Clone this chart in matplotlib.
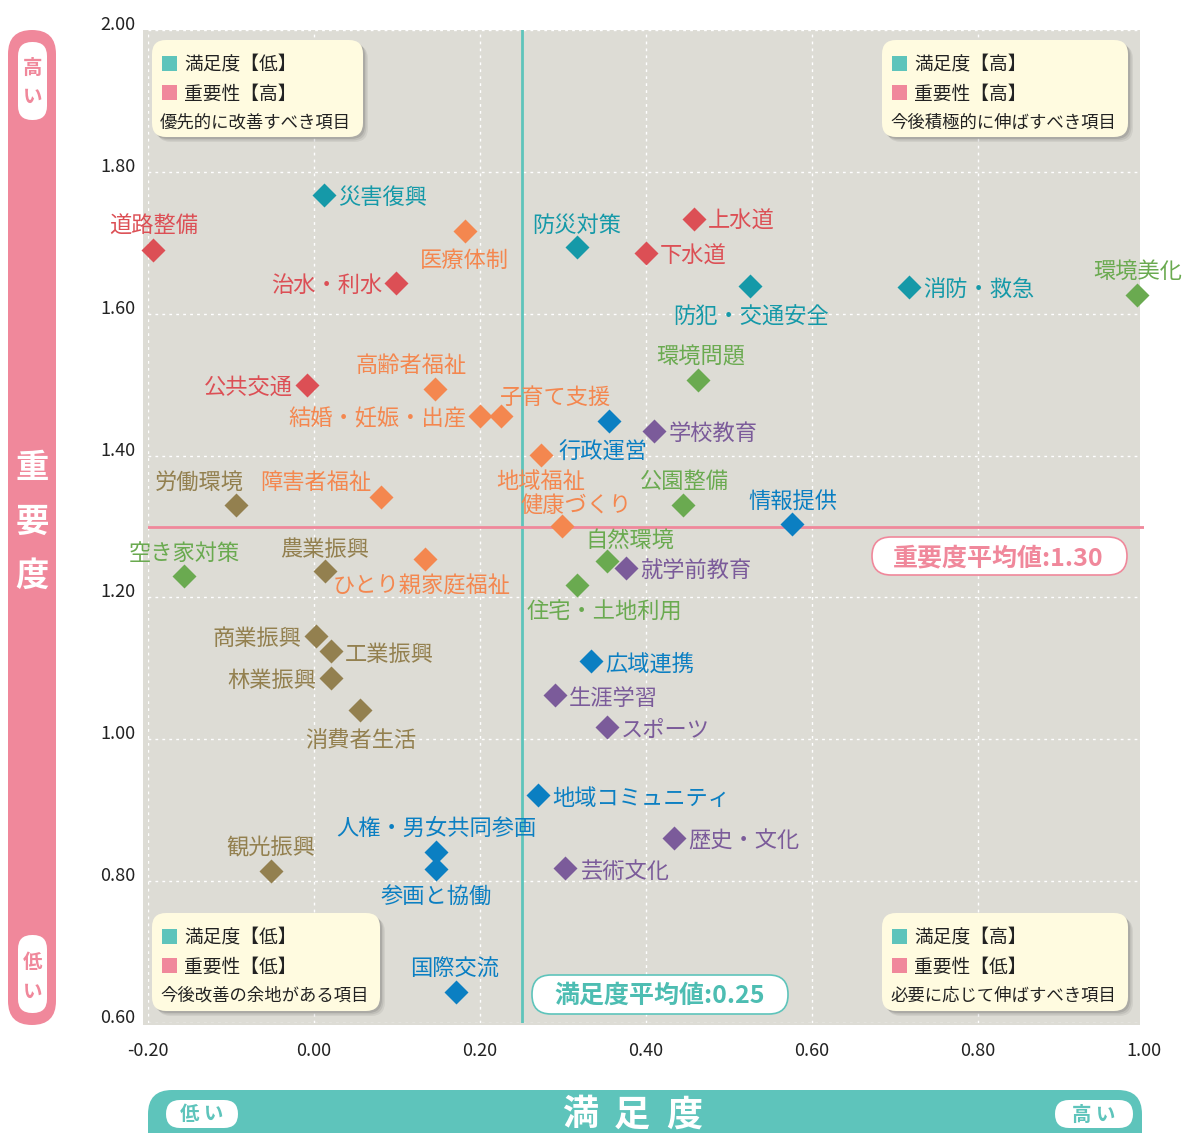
import matplotlib
matplotlib.use("Agg")
import matplotlib.pyplot as plt
from matplotlib.patches import FancyBboxPatch, Rectangle
from matplotlib.transforms import Affine2D, ScaledTranslation

plt.rcParams['font.family'] = ['Noto Sans CJK JP', 'DejaVu Sans']

# 各項目: 名前, 満足度, 重要度, グループ
names = ['災害復興', '道路整備', '医療体制', '防災対策', '上水道', '下水道', '治水・利水',
         '防犯・交通安全', '消防・救急', '環境美化', '環境問題', '公共交通', '高齢者福祉',
         '結婚・妊娠・出産', '子育て支援', '行政運営', '学校教育', '地域福祉', '健康づくり',
         '労働環境', '障害者福祉', '公園整備', '情報提供', '自然環境', '就学前教育',
         '空き家対策', '農業振興', 'ひとり親家庭福祉', '住宅・土地利用', '商業振興',
         '工業振興', '林業振興', '広域連携', '生涯学習', '消費者生活', 'スポーツ',
         '地域コミュニティ', '人権・男女共同参画', '参画と協働', '歴史・文化', '観光振興',
         '芸術文化', '国際交流']
satisfaction = [0.012, -0.194, 0.182, 0.317, 0.458, 0.400, 0.099,
                0.525, 0.717, 0.992, 0.463, -0.008, 0.146,
                0.200, 0.225, 0.355, 0.410, 0.273, 0.299,
                -0.094, 0.081, 0.445, 0.576, 0.353, 0.376,
                -0.157, 0.013, 0.134, 0.317, 0.002,
                0.020, 0.020, 0.334, 0.290, 0.055, 0.353,
                0.270, 0.147, 0.147, 0.434, -0.052,
                0.302, 0.171]
importance = [1.768, 1.690, 1.716, 1.694, 1.734, 1.685, 1.644,
              1.639, 1.638, 1.627, 1.507, 1.500, 1.494,
              1.456, 1.456, 1.449, 1.435, 1.401, 1.301,
              1.331, 1.342, 1.331, 1.303, 1.251, 1.241,
              1.230, 1.237, 1.254, 1.217, 1.146,
              1.124, 1.087, 1.110, 1.062, 1.041, 1.017,
              0.921, 0.841, 0.817, 0.861, 0.815,
              0.818, 0.644]
groups = ['防災', '基盤', '福祉', '防災', '基盤', '基盤', '基盤',
          '防災', '防災', '環境', '環境', '基盤', '福祉',
          '福祉', '福祉', '行政', '教育', '福祉', '福祉',
          '産業', '福祉', '環境', '行政', '環境', '教育',
          '環境', '産業', '福祉', '環境', '産業',
          '産業', '産業', '行政', '教育', '産業', '教育',
          '行政', '行政', '行政', '教育', '産業',
          '教育', '行政']

mean_sat = 0.25
mean_imp = 1.30
xticks = [-0.2, 0.0, 0.2, 0.4, 0.6, 0.8, 1.0]
yticks = [0.6, 0.8, 1.0, 1.2, 1.4, 1.6, 1.8, 2.0]

colors = {'防災': '#1599a8', '基盤': '#dc4f55', '福祉': '#f4874f', '環境': '#6aaa50',
          '行政': '#0b7fc2', '教育': '#7b5b9a', '産業': '#93804f'}

# ラベル位置 (dx, dy [px], ha)
R = (14, 0, 'left')
L = (-14, 0, 'right')
label_pos = {
    '災害復興': R, '道路整備': (1, 27, 'center'), '医療体制': (-1, -26, 'center'),
    '防災対策': (0, 25, 'center'), '上水道': R, '下水道': R, '治水・利水': L,
    '防犯・交通安全': (1, -28, 'center'), '消防・救急': R, '環境美化': (0, 26, 'center'),
    '環境問題': (2, 26, 'center'), '公共交通': L, '高齢者福祉': (-24, 26, 'center'),
    '結婚・妊娠・出産': L, '子育て支援': (55, 21, 'center'), '行政運営': (-6, -28, 'center'),
    '学校教育': R, '地域福祉': (0, -24, 'center'), '健康づくり': (14, 23, 'center'),
    '労働環境': (-37, 25, 'center'), '障害者福祉': (-65, 17, 'center'),
    '公園整備': (1, 26, 'center'), '情報提供': (1, 25, 'center'),
    '自然環境': (23, 24, 'center'), '就学前教育': R, '空き家対策': (1, 26, 'center'),
    '農業振興': (0, 25, 'center'), 'ひとり親家庭福祉': (-4, -24, 'center'),
    '住宅・土地利用': (27, -24, 'center'), '商業振興': L, '工業振興': R, '林業振興': L,
    '広域連携': R, '生涯学習': R, '消費者生活': (1, -27, 'center'), 'スポーツ': R,
    '地域コミュニティ': R, '人権・男女共同参画': (0, 27, 'center'),
    '参画と協働': (0, -25, 'center'), '歴史・文化': R, '観光振興': (0, 26, 'center'),
    '芸術文化': (16, 0, 'left'), '国際交流': (-1, 26, 'center'),
}

W, H, DPI = 1184, 1133, 100
fig = plt.figure(figsize=(W / DPI, H / DPI), dpi=DPI)
PX = Affine2D().scale(1 / DPI) + fig.dpi_scale_trans        # ピクセル (下から)
T = Affine2D().scale(1, -1).translate(0, H) + PX             # ピクセル (上から)

# 背景 (灰色) は軸より少し左寄り
fig.patches.append(Rectangle((143, H - 1025), 997, 995, fc='#dddcd5', ec='none',
                             transform=PX, zorder=-1))

ax_l, ax_r, ax_t, ax_b = 148, 1144, 30, 1023
ax = fig.add_axes([ax_l / W, 1 - ax_b / H, (ax_r - ax_l) / W, (ax_b - ax_t) / H])
ax.patch.set_visible(False)
ax.set_xlim(-0.2, 1.0)
ax.set_ylim(0.6, 2.0)
for s in ax.spines.values():
    s.set_visible(False)
ax.set_xticks(xticks)
ax.set_yticks(yticks)
ax.set_xticklabels([f'{v:.2f}' for v in xticks])
ax.set_yticklabels([f'{v:.2f}' for v in yticks])
ax.tick_params(length=0, labelsize=13, colors='#222222')
ax.tick_params(axis='x', pad=14)
ax.tick_params(axis='y', pad=9)
for lab in ax.get_yticklabels():
    lab.set_transform(lab.get_transform() + ScaledTranslation(0, 7 / DPI, fig.dpi_scale_trans))
ax.grid(True, color='white', linestyle=(0, (2, 3)), linewidth=1)
ax.set_axisbelow(True)

ax.axvline(mean_sat, color='#5ec4bb', lw=2, zorder=1)
ax.axhline(mean_imp, color='#f0889b', lw=2, zorder=1)

for n, x, y, g in zip(names, satisfaction, importance, groups):
    c = colors[g]
    ax.plot(x, y, marker='D', ms=12, color=c, mec='none', zorder=3, clip_on=False)
    dx, dy, ha = label_pos[n]
    ax.annotate(n, (x, y), xytext=(dx, dy - 3), textcoords='offset pixels',
                ha=ha, va='center', fontsize=16, color=c, zorder=4, annotation_clip=False)


def rbox(x0, y0, x1, y1, r, fc, ec='none', lw=0, z=5, shadow=False):
    if shadow:
        for k, a in [(5, 0.06), (3.5, 0.08), (2, 0.10)]:
            fig.patches.append(FancyBboxPatch((x0 + k, H - y1 - k), x1 - x0, y1 - y0,
                                              boxstyle=f'round,pad=0,rounding_size={r}',
                                              fc='black', ec='none', alpha=a,
                                              transform=PX, zorder=z - 0.5))
    fig.patches.append(FancyBboxPatch((x0, H - y1), x1 - x0, y1 - y0,
                                      boxstyle=f'round,pad=0,rounding_size={r}',
                                      fc=fc, ec=ec, lw=lw, transform=PX, zorder=z))


def ftext(x, y, s, **kw):
    fig.text(x, y, s, transform=T, **kw)


# 四象限の説明ボックス
quad = [
    (152, 40, 363, 137, '満足度【低】', '重要性【高】', '優先的に改善すべき項目'),
    (882, 40, 1128, 137, '満足度【高】', '重要性【高】', '今後積極的に伸ばすべき項目'),
    (152, 913, 380, 1011, '満足度【低】', '重要性【低】', '今後改善の余地がある項目'),
    (882, 913, 1128, 1011, '満足度【高】', '重要性【低】', '必要に応じて伸ばすべき項目'),
]
for x0, y0, x1, y1, t1, t2, t3 in quad:
    rbox(x0, y0, x1, y1, 14, '#fffbe0', z=6, shadow=True)
    for j, (t, sq) in enumerate([(t1, '#5ec4bb'), (t2, '#f0889b')]):
        yy = y0 + 23 + j * 29
        fig.patches.append(Rectangle((x0 + 10, H - yy - 7.5), 15, 15, fc=sq, ec='none',
                                     transform=PX, zorder=7))
        ftext(x0 + 32, yy + 2, t, fontsize=13.5, color='#222222', va='center', ha='left', zorder=8)
    ftext(x0 + 8, y0 + 83, t3, fontsize=12.5, color='#222222', va='center', ha='left', zorder=8)

# 平均値ラベル
rbox(872, 537, 1127, 575, 19, 'white', ec='#f0889b', lw=1.2, z=6)
ftext(998, 558, f'重要度平均値:{mean_imp:.2f}', fontsize=18, fontweight='bold',
      color='#f0889b', ha='center', va='center', zorder=8)
rbox(532, 975, 788, 1014, 19, 'white', ec='#5ec4bb', lw=1.2, z=6)
ftext(660, 996, f'満足度平均値:{mean_sat:.2f}', fontsize=18, fontweight='bold',
      color='#4dbdb2', ha='center', va='center', zorder=8)

# 縦軸の帯 (重要度)
rbox(8, 30, 56, 1025, 24, '#f0889b', z=2)
rbox(18, 42, 47, 120, 14, 'white', z=3)
rbox(18, 935, 47, 1013, 14, 'white', z=3)
for ch, yy in [('高', 68), ('い', 97)]:
    ftext(32.5, yy, ch, fontsize=14, fontweight='bold', color='#f0889b',
          ha='center', va='center', zorder=4)
for ch, yy in [('低', 962), ('い', 992)]:
    ftext(32.5, yy, ch, fontsize=14, fontweight='bold', color='#f0889b',
          ha='center', va='center', zorder=4)
for ch, yy in [('重', 468), ('要', 522), ('度', 576)]:
    ftext(32, yy, ch, fontsize=24, fontweight='bold', color='white',
          ha='center', va='center', zorder=4)

# 横軸の帯 (満足度)
rbox(148, 1090, 1142, 1160, 24, '#5ec4bb', z=2)
rbox(166, 1100, 238, 1128, 14, 'white', z=3)
rbox(1055, 1100, 1133, 1128, 14, 'white', z=3)
ftext(202, 1115, '低 い', fontsize=14, fontweight='bold', color='#5ec4bb',
      ha='center', va='center', zorder=4)
ftext(1094, 1115, '高 い', fontsize=14, fontweight='bold', color='#5ec4bb',
      ha='center', va='center', zorder=4)
for ch, xx in [('満', 580), ('足', 632), ('度', 684)]:
    ftext(xx, 1115, ch, fontsize=26, fontweight='bold', color='white',
          ha='center', va='center', zorder=4)

fig.savefig('out.png', dpi=DPI)
